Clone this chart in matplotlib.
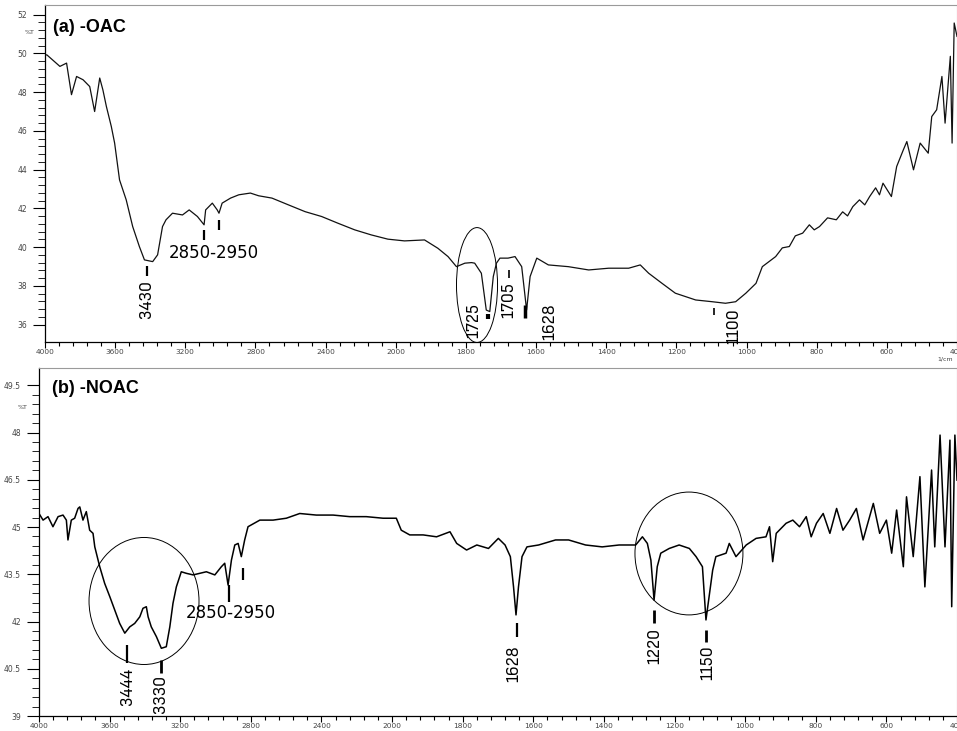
"""
FTIR spectra of OAC (a) and NOAC (b) -- %T vs wavenumber, split-scale x axis at 2000 1/cm
"""
import matplotlib
matplotlib.use('Agg')
import matplotlib.pyplot as plt
from matplotlib.patches import Ellipse
from matplotlib.ticker import FixedLocator
from matplotlib import font_manager as fm
import numpy as np

# ---- (a) -OAC spectrum ----
oac_wn = [4000, 3990, 3915, 3877, 3849, 3820, 3783, 3745, 3717, 3688,
          3670, 3650, 3622, 3603, 3575, 3537, 3500, 3462, 3433, 3386,
          3358, 3330, 3310, 3273, 3216, 3178, 3131, 3093, 3084, 3046,
          3018, 3008, 2990, 2942, 2895, 2829, 2782, 2706, 2612, 2517,
          2423, 2329, 2234, 2140, 2045, 1975, 1918, 1880, 1851, 1827,
          1803, 1784, 1775, 1756, 1742, 1732, 1722, 1713, 1703, 1680,
          1660, 1641, 1627, 1617, 1598, 1565, 1508, 1450, 1393, 1336,
          1303, 1279, 1241, 1203, 1145, 1098, 1060, 1031, 1002, 973,
          955, 917, 898, 878, 861, 840, 821, 807, 792, 769,
          744, 726, 712, 697, 678, 663, 649, 632, 621, 611,
          587, 572, 553, 543, 524, 505, 482, 472, 458, 443,
          434, 419, 414, 408, 400]
oac_t = [49.90, 49.93, 49.33, 49.50, 47.87, 48.81, 48.64, 48.29, 47.00, 48.73,
         48.12, 47.26, 46.23, 45.37, 43.47, 42.44, 41.06, 40.03, 39.34, 39.25,
         39.60, 41.06, 41.41, 41.75, 41.66, 41.92, 41.58, 41.15, 41.92, 42.27,
         41.92, 41.75, 42.27, 42.53, 42.70, 42.79, 42.65, 42.53, 42.18, 41.83,
         41.58, 41.23, 40.89, 40.63, 40.41, 40.32, 40.37, 39.94, 39.51, 38.99,
         39.17, 39.20, 39.17, 38.65, 36.75, 36.67, 38.48, 39.17, 39.43, 39.43,
         39.51, 38.99, 36.75, 38.48, 39.43, 39.08, 38.99, 38.82, 38.91, 38.91,
         39.08, 38.65, 38.13, 37.62, 37.27, 37.18, 37.10, 37.18, 37.62, 38.13,
         38.99, 39.51, 39.96, 40.03, 40.58, 40.72, 41.15, 40.89, 41.06, 41.51,
         41.41, 41.82, 41.61, 42.09, 42.44, 42.18, 42.61, 43.06, 42.70, 43.30,
         42.61, 44.16, 45.02, 45.45, 43.99, 45.37, 44.85, 46.74, 47.09, 48.81,
         46.40, 49.85, 45.37, 51.57, 50.88]

# ---- (b) -NOAC spectrum ----
noac_wn = [4000, 3977, 3949, 3921, 3892, 3864, 3845, 3836, 3817, 3798,
           3779, 3769, 3751, 3732, 3713, 3694, 3684, 3675, 3656, 3628,
           3599, 3571, 3543, 3514, 3486, 3458, 3429, 3411, 3392, 3382,
           3364, 3335, 3307, 3279, 3259, 3241, 3222, 3194, 3165, 3127,
           3089, 3052, 3004, 2967, 2948, 2929, 2910, 2891, 2872, 2854,
           2835, 2816, 2749, 2674, 2599, 2523, 2429, 2334, 2240, 2146,
           2051, 1988, 1974, 1950, 1912, 1874, 1836, 1817, 1789, 1760,
           1727, 1699, 1680, 1665, 1656, 1649, 1642, 1632, 1618, 1585,
           1537, 1500, 1452, 1405, 1357, 1310, 1291, 1277, 1267, 1258,
           1249, 1239, 1215, 1187, 1158, 1139, 1121, 1111, 1102, 1092,
           1083, 1054, 1045, 1026, 997, 969, 941, 931, 922, 912,
           884, 865, 846, 827, 813, 798, 779, 760, 741, 723,
           704, 685, 666, 637, 619, 600, 585, 571, 552, 543,
           524, 505, 491, 472, 463, 448, 434, 420, 415, 406, 400]
noac_t = [45.43, 45.22, 45.33, 45.01, 45.33, 45.38, 45.22, 44.59, 45.22, 45.28,
          45.59, 45.64, 45.22, 45.49, 44.90, 44.80, 44.37, 44.17, 43.74, 43.21,
          42.79, 42.37, 41.94, 41.63, 41.83, 41.94, 42.15, 42.42, 42.47, 42.15,
          41.83, 41.52, 41.15, 41.20, 41.83, 42.58, 43.10, 43.58, 43.53, 43.48,
          43.53, 43.58, 43.48, 43.74, 43.85, 43.16, 43.95, 44.43, 44.48, 44.06,
          44.59, 45.01, 45.22, 45.22, 45.28, 45.43, 45.38, 45.38, 45.33, 45.33,
          45.28, 45.28, 44.90, 44.75, 44.75, 44.69, 44.85, 44.48, 44.27, 44.43,
          44.32, 44.64, 44.43, 44.06, 43.10, 42.21, 43.10, 44.06, 44.37, 44.43,
          44.59, 44.59, 44.43, 44.37, 44.43, 44.43, 44.69, 44.48, 43.95, 42.68,
          43.74, 44.17, 44.32, 44.43, 44.32, 44.06, 43.74, 42.05, 42.79, 43.63,
          44.06, 44.17, 44.48, 44.06, 44.43, 44.64, 44.69, 45.01, 43.90, 44.80,
          45.12, 45.22, 45.01, 45.33, 44.69, 45.12, 45.43, 44.80, 45.59, 44.90,
          45.22, 45.59, 44.59, 45.75, 44.80, 45.22, 44.17, 45.54, 43.74, 45.96,
          44.06, 46.60, 43.10, 46.81, 44.37, 47.92, 44.37, 47.76, 42.47, 47.92, 46.49]

# x ticks (spectrometer halves the scale above 2000 1/cm)
x_major = [4000, 3600, 3200, 2800, 2400, 2000, 1800, 1600, 1400, 1200, 1000, 800, 600, 400]
x_minor = [w for w in range(4000, 2000, -80) if w % 400] + [w for w in range(2000, 400, -40) if w % 200]
oac_yticks = [36, 38, 40, 42, 44, 46, 48, 50, 52]
noac_yticks = [39, 40.5, 42, 43.5, 45, 46.5, 48, 49.5]

GREY = '#9a9a9a'
WIDE = ['DejaVu Sans']
BOLD = ['Liberation Sans', 'DejaVu Sans']

# peak numbers in the source are tall and narrow: use a narrow face if one is installed
_narrow = None
for f in fm.fontManager.ttflist:
    fn = f.fname.lower()
    if ('narrow' in fn or 'condensed' in fn) and 'sans' in fn and f.weight in (400, 'normal', 'regular') \
            and f.style == 'normal':
        _narrow = f.fname
        if 'liberationsansnarrow' in fn.replace('-', '').replace('_', ''):
            break
if _narrow:
    NARROW = fm.FontProperties(fname=_narrow, size=13)
else:
    NARROW = fm.FontProperties(family=['Liberation Sans', 'DejaVu Sans'], size=11.5)


def fwd(x):
    x = np.asarray(x, dtype=float)
    return np.where(x >= 2000, 2000 + (x - 2000) * 0.5, x)


def inv(u):
    u = np.asarray(u, dtype=float)
    return np.where(u >= 2000, 2000 + (u - 2000) * 2.0, u)


def style(ax, yticks, ymin, ymax, ystep):
    ax.set_xscale('function', functions=(fwd, inv))
    ax.set_xlim(4000, 400)
    ax.set_ylim(ymin, ymax)
    ax.xaxis.set_major_locator(FixedLocator(x_major))
    ax.xaxis.set_minor_locator(FixedLocator(x_minor))
    ax.set_xticklabels([str(v) for v in x_major])
    ax.yaxis.set_major_locator(FixedLocator(yticks))
    minor = []
    for a in yticks[:-1]:
        minor += [a + ystep * k for k in range(1, 5)]
    ax.yaxis.set_minor_locator(FixedLocator(minor))
    ax.set_yticklabels(['%g' % v for v in yticks])
    ax.tick_params(axis='x', which='major', direction='out', length=4.5, width=0.8,
                   labelsize=5.3, labelcolor='#444444', pad=0.5)
    ax.tick_params(axis='x', which='minor', direction='out', length=2.8, width=0.8)
    ax.tick_params(axis='y', which='major', direction='out', length=9, width=0.8,
                   labelsize=5.5, labelcolor='#444444', pad=4)
    ax.tick_params(axis='y', which='minor', direction='out', length=5, width=0.6)
    for s in ('top', 'right'):
        ax.spines[s].set_color(GREY)
        ax.spines[s].set_linewidth(0.8)
    for s in ('left', 'bottom'):
        ax.spines[s].set_color('black')
        ax.spines[s].set_linewidth(0.9)


def mark(ax, wn, t0, t1, lw=1.6):
    ax.plot([wn, wn], [t0, t1], color='black', lw=lw, solid_capstyle='butt')


def vlabel(ax, wn, t, txt):
    ax.text(wn, t, txt, rotation=90, ha='center', va='top',
            fontproperties=NARROW, color='black')


fig = plt.figure(figsize=(9.57, 7.31), dpi=100)
fig.patch.set_facecolor('white')

# ---------------- (a) -OAC ----------------
ax1 = fig.add_axes([45 / 957, 1 - 342 / 731, 912 / 957, 337 / 731])
ax1.plot(oac_wn, oac_t, color='#111111', lw=0.9)
style(ax1, oac_yticks, 35.1, 52.5, 0.4)
ax1.text(-0.012, 51.1, '%T', transform=ax1.get_yaxis_transform(), ha='right',
         va='center', fontsize=4.5, color='#444444')
ax1.text(0.009, 0.932, '(a) -OAC', transform=ax1.transAxes, ha='left', va='center',
         fontsize=13, fontweight='bold', family=BOLD)

mark(ax1, 3420, 38.5, 39.0)
vlabel(ax1, 3420, 38.3, '3430')
mark(ax1, 3093, 40.37, 40.89)
mark(ax1, 3008, 40.89, 41.41)
ax1.text(3292, 39.7, '2850-2950', ha='left', va='center', fontsize=12, family=WIDE)
mark(ax1, 1737, 36.28, 36.56, lw=3)
vlabel(ax1, 1777, 37.12, '1725')
mark(ax1, 1677, 38.41, 38.82, lw=1.2)
vlabel(ax1, 1677, 38.2, '1705')
mark(ax1, 1631, 36.34, 37.0, lw=2.5)
vlabel(ax1, 1562, 37.12, '1628')
mark(ax1, 1093, 36.5, 36.86, lw=1.2)
vlabel(ax1, 1036, 36.86, '1100')
ax1.add_patch(Ellipse((0.4737, 0.169), 0.045, 0.341, transform=ax1.transAxes,
                      fill=False, edgecolor='black', lw=0.7))
fig.text(945 / 957, 1 - 359 / 731, '1/cm', ha='center', va='center', fontsize=4.5,
         color='#444444')

# ---------------- (b) -NOAC ----------------
ax2 = fig.add_axes([39 / 957, 1 - 716 / 731, 918 / 957, 348 / 731])
ax2.plot(noac_wn, noac_t, color='black', lw=1.1)
style(ax2, noac_yticks, 39, 50.05, 0.3)
ax2.text(-0.012, 48.78, '%T', transform=ax2.get_yaxis_transform(), ha='right',
         va='center', fontsize=4.5, color='#444444')
ax2.text(0.014, 0.9425, '(b) -NOAC', transform=ax2.transAxes, ha='left', va='center',
         fontsize=13, fontweight='bold', family=BOLD)

mark(ax2, 3501, 40.68, 41.25)
vlabel(ax2, 3496, 40.52, '3444')
mark(ax2, 3309, 40.37, 40.78, lw=2)
vlabel(ax2, 3309, 40.30, '3330')
mark(ax2, 2925, 42.62, 43.16)
mark(ax2, 2844, 43.32, 43.70)
ax2.text(3167, 42.27, '2850-2950', ha='left', va='center', fontsize=12, family=WIDE)
mark(ax2, 1647, 41.51, 41.95)
vlabel(ax2, 1656, 41.25, '1628')
mark(ax2, 1258, 41.95, 42.37, lw=2)
vlabel(ax2, 1255, 41.79, '1220')
mark(ax2, 1110, 41.35, 41.73, lw=2)
vlabel(ax2, 1107, 41.25, '1150')
ax2.add_patch(Ellipse((0.1144, 0.3305), 0.1198, 0.365, transform=ax2.transAxes,
                      fill=False, edgecolor='black', lw=0.7))
ax2.add_patch(Ellipse((0.708, 0.467), 0.1176, 0.353, transform=ax2.transAxes,
                      fill=False, edgecolor='black', lw=0.7))

fig.savefig('out.png', dpi=100, facecolor='white')
plt.close(fig)
